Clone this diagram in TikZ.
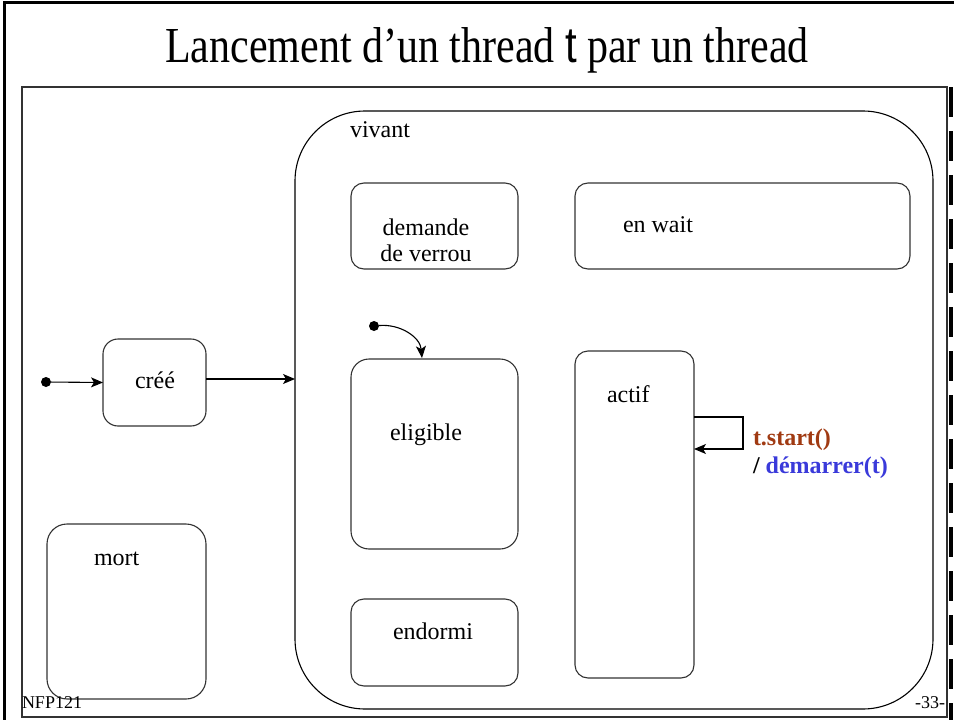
\documentclass[tikz,border=0pt]{standalone}
\usepackage{graphicx}
\usepackage{fontspec}
\setmainfont{Liberation Serif}
\newfontfamily\sansf{Liberation Sans}
\usetikzlibrary{arrows.meta}
\definecolor{brownred}{RGB}{160,58,18}
\definecolor{myblue}{RGB}{58,58,218}
\definecolor{boxgray}{RGB}{50,50,50}
\tikzset{
  statebox/.style={draw=boxgray, line width=1.1pt, rectangle, rounded corners=13pt, inner sep=0pt, outer sep=0pt},
  lbl/.style={inner sep=0pt, outer sep=0pt, font=\fontsize{24}{26}\selectfont},
  small/.style={inner sep=0pt, outer sep=0pt, font=\fontsize{18}{20}\selectfont},
  dotnode/.style={circle, fill=black, inner sep=0pt, minimum size=10pt},
  arr/.style={line width=1.1pt, -{Stealth[length=12pt,width=10pt,inset=3pt]}}
}
\begin{document}
\begin{tikzpicture}[x=1pt,y=-1pt]
\useasboundingbox (0,0) rectangle (954,720);
% frames
\draw[line width=3pt] (4,720) -- (4,2) -- (954,2);
\draw[line width=4pt, dash pattern=on 30pt off 14pt] (951,87) -- (951,720);
\draw[draw=boxgray, line width=1.2pt] (22,87) rectangle (947,717);
% title
\node[inner sep=0pt, anchor=base, font=\fontsize{42}{46}\selectfont] (title) at (487,62) {\scalebox{1}[1.2]{Lancement d’un thread {\sansf t} par un thread}};
% big state
\draw[line width=1.1pt, rounded corners=70pt] (295,111) rectangle (933,709);
\node[statebox, minimum width=638pt, minimum height=598pt, draw=none, rounded corners=0pt] (vivant) at (614,410) {};
\node[lbl, anchor=base west] (vivantlbl) at (350,137) {vivant};
% boxes
\node[statebox, minimum width=167pt, minimum height=86pt] (demande) at (434.5,226) {};
\node[lbl, align=center, anchor=base] (demandelbl) at (426,261) {demande\\[0pt]de verrou};
\node[statebox, minimum width=335pt, minimum height=86pt] (enwait) at (742.5,226) {};
\node[lbl, anchor=base west] (enwaitlbl) at (623,232) {en wait};
\node[statebox, rounded corners=18pt, minimum width=167pt, minimum height=190pt] (eligible) at (434.5,454) {};
\node[lbl, anchor=base west] (eligiblelbl) at (390,440) {eligible};
\node[statebox, minimum width=167pt, minimum height=87pt] (endormi) at (434.5,642.5) {};
\node[lbl, anchor=base west] (endormilbl) at (393,639) {endormi};
\node[statebox, minimum width=119pt, minimum height=327pt] (actif) at (634.5,514.5) {};
\node[lbl, anchor=base west] (actiflbl) at (607,402) {actif};
\node[statebox, rounded corners=15pt, minimum width=103pt, minimum height=87pt] (cree) at (154.5,382.5) {};
\node[lbl, anchor=base west] (creelbl) at (135,388) {créé};
\node[statebox, rounded corners=20pt, minimum width=159pt, minimum height=175pt] (mort) at (126.5,611.5) {};
\node[lbl, anchor=base west] (mortlbl) at (94,565) {mort};
% initial dots
\node[dotnode] (init1) at (46,382) {};
\node[dotnode] (init2) at (374,326) {};
% transitions
\draw[arr] (init1) -- (cree.west);
\coordinate (vin) at (295,379);
\draw[arr] (cree.east |- vin) -- (vin);
\coordinate (eltop) at (422,358);
\draw[arr] (init2) to[out=5, in=95] (eltop);
\coordinate (lt) at (743,417);
\coordinate (lb) at (743,449);
\draw[arr] (actif.east |- lt) -- (lt) -- (lb) -- (actif.east |- lb);
\node[lbl, anchor=base west, font=\fontsize{24}{26}\selectfont\bfseries, text=brownred] (start) at (753,445) {t.start()};
\node[lbl, anchor=base west, font=\fontsize{24}{26}\selectfont\bfseries] (dem) at (753,473) {/ \textcolor{myblue}{démarrer(t)}};
% footer
\node[small, anchor=base west] (nfp) at (22,708) {NFP121};
\node[small, anchor=base east] (page) at (945,708) {-33-};
\end{tikzpicture}
\end{document}
